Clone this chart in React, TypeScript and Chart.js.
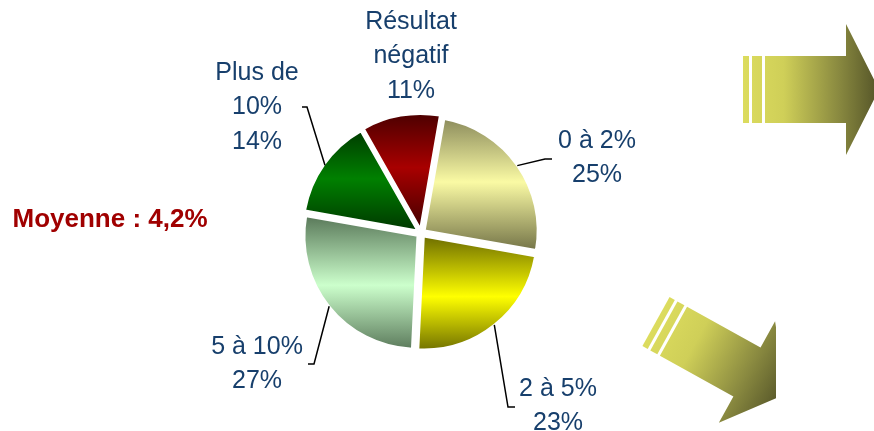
import { useEffect, useRef } from 'react';
import { Chart, registerables } from 'chart.js';

Chart.register(...registerables);

// ---- data ----
const categories = ['0 à 2%', '2 à 5%', '5 à 10%', 'Plus de 10%', 'Résultat négatif'];
const labelLines = [['0 à 2%'], ['2 à 5%'], ['5 à 10%'], ['Plus de', '10%'], ['Résultat', 'négatif']];
const shares = [25, 23, 27, 14, 11];
const averageLabel = 'Moyenne : 4,2%';

// ---- styles ----
const sliceGradients = [
  ['#88885a', '#fafaa4', '#7a7a4c'],
  ['#767600', '#ffff00', '#6a6a00'],
  ['#5e7e5e', '#ccffcc', '#587658'],
  ['#003a00', '#008000', '#003c00'],
  ['#480000', '#a80000', '#4c0000'],
];
const labelColor = '#173f6c';
const averageColor = '#a00000';
const FONT = "'Liberation Sans', Arial, sans-serif";

// label layout relative to pie centre (annotation positions)
const labelLayout: any[] = [
  { tx: 176, ty: -92, elbow: [124, -74], end: [131, -74] },
  { tx: 137, ty: 156, elbow: [87, 174], end: [94, 174] },
  { tx: -164, ty: 114, elbow: [-107, 131], end: [-113, 131] },
  { tx: -164, ty: -160, elbow: [-114, -126], end: [-119, -126] },
  { tx: -10, ty: -211, elbow: null, end: null },
];

function drawArrow(ctx: CanvasRenderingContext2D, ox: number, oy: number, angleDeg: number, p: any, clipX: number | null) {
  ctx.save();
  if (clipX !== null) {
    ctx.beginPath();
    ctx.rect(0, 0, clipX, 2000);
    ctx.clip();
  }
  ctx.translate(ox, oy);
  ctx.rotate((angleDeg * Math.PI) / 180);
  const tip = p.bodyEnd + p.headLen;
  const g = ctx.createLinearGradient(0, 0, tip, 0);
  g.addColorStop(0, '#dcdc5e');
  g.addColorStop(0.3, '#cfcf58');
  g.addColorStop(0.7, '#8a8a40');
  g.addColorStop(1, '#545428');
  ctx.fillStyle = g;
  for (const [a, b] of p.stripes) {
    ctx.fillRect(a, -p.bodyHalf, b - a, p.bodyHalf * 2);
  }
  ctx.beginPath();
  ctx.moveTo(p.bodyStart, -p.bodyHalf);
  ctx.lineTo(p.bodyEnd, -p.bodyHalf);
  ctx.lineTo(p.bodyEnd, -p.headHalf);
  ctx.lineTo(tip, 0);
  ctx.lineTo(p.bodyEnd, p.headHalf);
  ctx.lineTo(p.bodyEnd, p.bodyHalf);
  ctx.lineTo(p.bodyStart, p.bodyHalf);
  ctx.closePath();
  ctx.fill();
  ctx.restore();
}

const decorPlugin = {
  id: 'pieDecor',
  beforeDatasetsDraw(chart: any) {
    const ctx = chart.ctx;
    const meta = chart.getDatasetMeta(0);
    meta.data.forEach((arc: any, i: number) => {
      const p = arc.getProps(['x', 'y', 'startAngle', 'endAngle', 'outerRadius'], true);
      const off = (arc.options.offset || 0) / 4;
      const mid = (p.startAngle + p.endAngle) / 2;
      const cy = p.y + Math.sin(mid) * off;
      const ys = [cy, cy + Math.sin(p.startAngle) * p.outerRadius, cy + Math.sin(p.endAngle) * p.outerRadius];
      for (const a of [-Math.PI / 2, Math.PI / 2, (3 * Math.PI) / 2]) {
        if (a >= p.startAngle && a <= p.endAngle) ys.push(cy + Math.sin(a) * p.outerRadius);
      }
      const y0 = Math.min(...ys);
      const y1 = Math.max(...ys);
      const g = ctx.createLinearGradient(0, y0, 0, y1);
      const s = sliceGradients[i];
      g.addColorStop(0, s[0]);
      g.addColorStop(0.5, s[1]);
      g.addColorStop(1, s[2]);
      arc.options = Object.assign({}, arc.options, { backgroundColor: g });
    });
  },
  afterDraw(chart: any) {
    const ctx: CanvasRenderingContext2D = chart.ctx;
    const meta = chart.getDatasetMeta(0);
    const first = meta.data[0];
    const cx = first.x;
    const cy = first.y;
    ctx.save();
    ctx.lineWidth = 1.5;
    ctx.strokeStyle = '#000';
    ctx.font = `25px ${FONT}`;
    ctx.fillStyle = labelColor;
    ctx.textAlign = 'center';
    ctx.textBaseline = 'middle';
    meta.data.forEach((arc: any, i: number) => {
      const p = arc.getProps(['x', 'y', 'startAngle', 'endAngle', 'outerRadius'], true);
      const off = (arc.options.offset || 0) / 4;
      const mid = (p.startAngle + p.endAngle) / 2;
      const L = labelLayout[i];
      if (L.elbow) {
        const rr = p.outerRadius + off;
        ctx.beginPath();
        ctx.moveTo(p.x + Math.cos(mid) * rr, p.y + Math.sin(mid) * rr);
        ctx.lineTo(cx + L.elbow[0], cy + L.elbow[1]);
        ctx.lineTo(cx + L.end[0], cy + L.end[1]);
        ctx.stroke();
      }
      const lines = [...labelLines[i], `${shares[i]}%`];
      lines.forEach((t, k) => {
        ctx.fillText(t, cx + L.tx, cy + L.ty + k * 34.5);
      });
    });
    ctx.font = `bold 26px ${FONT}`;
    ctx.fillStyle = averageColor;
    ctx.fillText(averageLabel, cx - 311, cy - 13);
    ctx.restore();

    // decorative arrows
    drawArrow(ctx, 743, 89.5, 0, {
      stripes: [[0, 6], [9, 19]], bodyStart: 22, bodyEnd: 103, bodyHalf: 33.5, headHalf: 65.5, headLen: 33,
    }, null);
    drawArrow(ctx, 656, 321.6, 29, {
      stripes: [[0, 6], [9, 17]], bodyStart: 20, bodyEnd: 104, bodyHalf: 28, headHalf: 58, headLen: 45,
    }, 776);
  },
};

export default function App() {
  const ref = useRef<HTMLCanvasElement | null>(null);
  useEffect(() => {
    if (!ref.current) return;
    const chart = new Chart(ref.current, {
      type: 'pie',
      data: {
        labels: categories,
        datasets: [
          {
            data: shares,
            backgroundColor: sliceGradients.map((s) => s[1]),
            borderColor: '#ffffff',
            borderWidth: 2,
            offset: 18,
            hoverOffset: 18,
          },
        ],
      },
      options: {
        responsive: false,
        animation: false,
        devicePixelRatio: 1,
        rotation: 10,
        radius: 113,
        layout: { padding: { left: 300, right: 332, top: 113, bottom: 78 } },
        plugins: {
          legend: { display: false },
          tooltip: { enabled: false },
        },
        events: [],
      } as any,
      plugins: [decorPlugin],
    });
    return () => chart.destroy();
  }, []);
  return (
    <div style={{ position: 'absolute', left: 0, top: 0, width: 874, height: 431, background: '#fff' }}>
      <canvas ref={ref} width={874} height={431} style={{ display: 'block' }} />
    </div>
  );
}
